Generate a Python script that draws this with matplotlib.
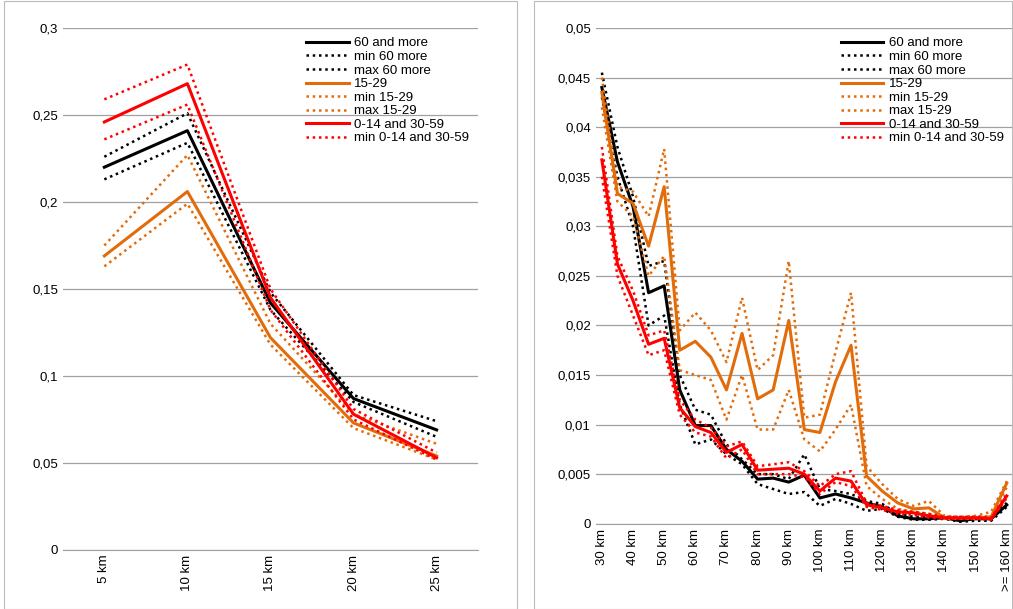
import matplotlib.pyplot as plt
from matplotlib.patches import Rectangle
from matplotlib.ticker import FuncFormatter

# === Data: left panel (short distances) ===
short_cats = ["5 km", "10 km", "15 km", "20 km", "25 km"]
old_s = [0.220, 0.241, 0.142, 0.087, 0.069]
old_min_s = [0.213, 0.234, 0.138, 0.085, 0.065]
old_max_s = [0.226, 0.251, 0.148, 0.089, 0.074]
young_s = [0.169, 0.206, 0.122, 0.073, 0.054]
young_min_s = [0.163, 0.199, 0.118, 0.070, 0.052]
young_max_s = [0.175, 0.227, 0.130, 0.078, 0.061]
mid_s = [0.246, 0.268, 0.145, 0.078, 0.053]
mid_min_s = [0.236, 0.256, 0.138, 0.075, 0.052]
mid_max_s = [0.259, 0.279, 0.150, 0.081, 0.056]

# === Data: right panel (long distances) ===
long_cats = [f"{d} km" for d in range(30, 160, 5)] + [">= 160 km"]
old_l = [0.044, 0.0365, 0.032, 0.0233, 0.024, 0.0135, 0.0099, 0.0099, 0.0075, 0.0063, 0.0045, 0.0046, 0.0042, 0.0049,
         0.0026, 0.003, 0.0026, 0.0021, 0.0017, 0.0008, 0.0005, 0.0005, 0.0006, 0.0003, 0.0005, 0.0005, 0.0019]
old_min_l = [0.043, 0.035, 0.030, 0.020, 0.021, 0.012, 0.008, 0.0085, 0.007, 0.006, 0.004, 0.0035, 0.003, 0.0032,
             0.0018, 0.0025, 0.002, 0.0013, 0.0015, 0.0007, 0.0004, 0.0004, 0.0005, 0.0002, 0.0003, 0.0003, 0.0017]
old_max_l = [0.0455, 0.038, 0.033, 0.026, 0.0265, 0.015, 0.0115, 0.011, 0.008, 0.0065, 0.005, 0.005, 0.0045, 0.007,
             0.0035, 0.0033, 0.003, 0.0023, 0.002, 0.001, 0.0007, 0.0007, 0.0007, 0.0005, 0.0007, 0.0007, 0.0021]
young_l = [0.0435, 0.0333, 0.0323, 0.028, 0.034, 0.0175, 0.0184, 0.0168, 0.0135, 0.0192, 0.0126, 0.0135, 0.0205, 0.0095,
           0.0092, 0.0143, 0.018, 0.0048, 0.0033, 0.0021, 0.0015, 0.0016, 0.0006, 0.0006, 0.0006, 0.0007, 0.0041]
young_min_l = [0.042, 0.0325, 0.031, 0.025, 0.027, 0.0155, 0.015, 0.0145, 0.0105, 0.015, 0.0095, 0.0095, 0.0135, 0.0085,
               0.0073, 0.0095, 0.012, 0.0038, 0.0025, 0.0015, 0.0012, 0.001, 0.0005, 0.0005, 0.0005, 0.0006, 0.0037]
young_max_l = [0.045, 0.034, 0.0335, 0.031, 0.0378, 0.0195, 0.0213, 0.0195, 0.0163, 0.0228, 0.0155, 0.017, 0.0265, 0.0107,
               0.011, 0.0173, 0.0233, 0.0058, 0.004, 0.0025, 0.0018, 0.0023, 0.0008, 0.0007, 0.0008, 0.0012, 0.0043]
mid_l = [0.0367, 0.0262, 0.0225, 0.0181, 0.0187, 0.0117, 0.0098, 0.0092, 0.0072, 0.0080, 0.0054, 0.0055, 0.0056, 0.0050,
         0.0033, 0.0046, 0.0043, 0.0019, 0.0016, 0.0012, 0.0011, 0.0008, 0.0006, 0.0006, 0.0006, 0.0005, 0.0028]
mid_min_l = [0.035, 0.025, 0.021, 0.017, 0.0175, 0.011, 0.0092, 0.0088, 0.0066, 0.0075, 0.005, 0.005, 0.005, 0.0047,
             0.003, 0.0042, 0.0038, 0.0017, 0.0014, 0.0010, 0.0009, 0.0006, 0.0005, 0.0005, 0.0005, 0.0004, 0.0026]
mid_max_l = [0.038, 0.027, 0.0235, 0.019, 0.0195, 0.0125, 0.0105, 0.0097, 0.0078, 0.0083, 0.0058, 0.006, 0.0062, 0.0053,
             0.0038, 0.005, 0.0053, 0.0021, 0.0018, 0.0014, 0.0012, 0.001, 0.0007, 0.0007, 0.0007, 0.0006, 0.003]

ORANGE = "#E36C0A"
RED = "#FF0000"
plt.rcParams['font.family'] = ['Liberation Sans', 'DejaVu Sans']

fig = plt.figure(figsize=(10.13, 6.09), dpi=100)
# panel borders
fig.patches.append(Rectangle((0.004, 0.0), 0.506, 0.998, transform=fig.transFigure,
                             fill=False, edgecolor="#BBBBBB", lw=0.8))
fig.patches.append(Rectangle((0.527, 0.0), 0.472, 0.998, transform=fig.transFigure,
                             fill=False, edgecolor="#BBBBBB", lw=0.8))

ax1 = fig.add_axes([0.062, 0.097, 0.41, 0.857])
ax2 = fig.add_axes([0.588, 0.140, 0.412, 0.814])

comma = FuncFormatter(lambda v, p: "0" if v == 0 else f"{v:g}".replace(".", ","))


def draw(ax, cats, series):
    x = list(range(len(cats)))
    for vals, col, ls, lw, lab in series:
        ax.plot(x, vals, color=col, linestyle=ls, lw=lw, label=lab)
    ax.grid(axis="y", color="#A0A0A0", lw=0.9)
    ax.set_axisbelow(True)
    for s in ["top", "right", "left"]:
        ax.spines[s].set_visible(False)
    ax.spines["bottom"].set_color("#A0A0A0")
    ax.tick_params(axis="both", length=0, labelsize=9.5)
    ax.yaxis.set_major_formatter(comma)
    ax.legend(loc="upper right", frameon=False, fontsize=9.5, handlelength=3.2,
              labelspacing=0.1, borderaxespad=0.3, handletextpad=0.4)


dot = (0, (1, 1.5))
draw(ax1, short_cats, [
    (old_s, "black", "-", 2.2, "60 and more"),
    (old_min_s, "black", dot, 1.8, "min 60 more"),
    (old_max_s, "black", dot, 1.8, "max 60 more"),
    (young_s, ORANGE, "-", 2.2, "15-29"),
    (young_min_s, ORANGE, dot, 1.8, "min 15-29"),
    (young_max_s, ORANGE, dot, 1.8, "max 15-29"),
    (mid_s, RED, "-", 2.2, "0-14 and 30-59"),
    (mid_min_s, RED, dot, 1.8, "min 0-14 and 30-59"),
    (mid_max_s, RED, dot, 1.8, "_nolegend_"),
])
ax1.set_ylim(0, 0.3)
ax1.set_yticks([0, 0.05, 0.1, 0.15, 0.2, 0.25, 0.3])
ax1.set_xlim(-0.5, 4.5)
ax1.set_xticks(range(len(short_cats)))
ax1.set_xticklabels(short_cats, rotation=90)

draw(ax2, long_cats, [
    (old_l, "black", "-", 2.2, "60 and more"),
    (old_min_l, "black", dot, 1.8, "min 60 more"),
    (old_max_l, "black", dot, 1.8, "max 60 more"),
    (young_l, ORANGE, "-", 2.2, "15-29"),
    (young_min_l, ORANGE, dot, 1.8, "min 15-29"),
    (young_max_l, ORANGE, dot, 1.8, "max 15-29"),
    (mid_l, RED, "-", 2.2, "0-14 and 30-59"),
    (mid_min_l, RED, dot, 1.8, "min 0-14 and 30-59"),
    (mid_max_l, RED, dot, 1.8, "_nolegend_"),
])
ax2.set_ylim(0, 0.05)
ax2.set_yticks([0, 0.005, 0.01, 0.015, 0.02, 0.025, 0.03, 0.035, 0.04, 0.045, 0.05])
ax2.set_xlim(-0.4, len(long_cats) - 0.6)
ax2.set_xticks(range(0, len(long_cats), 2))
ax2.set_xticklabels(long_cats[::2], rotation=90)

fig.savefig("out.png", dpi=100)
